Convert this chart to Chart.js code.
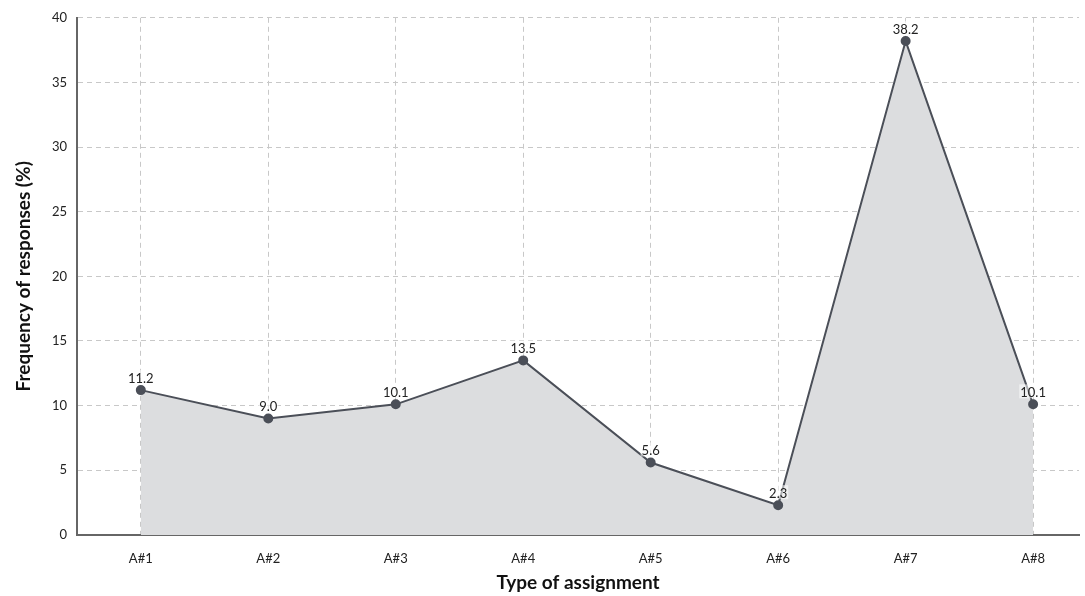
<!DOCTYPE html>
<html>
<head>
<meta charset="utf-8">
<script src="https://cdn.jsdelivr.net/npm/chart.js@4"></script>
<style>
  html, body { margin: 0; padding: 0; background: #fff; }
  #wrap { width: 1085px; height: 596px; }
</style>
</head>
<body>
<div id="wrap"><canvas id="freqChart"></canvas></div>
<script>
const categories = ['A#1', 'A#2', 'A#3', 'A#4', 'A#5', 'A#6', 'A#7', 'A#8'];
const frequency = [11.2, 9.0, 10.1, 13.5, 5.6, 2.3, 38.2, 10.1];
const yTicks = [0, 5, 10, 15, 20, 25, 30, 35, 40];

// value labels above the points
const valueLabels = {
  id: 'valueLabels',
  afterDatasetsDraw(chart) {
    const ctx = chart.ctx;
    const meta = chart.getDatasetMeta(0);
    ctx.save();
    ctx.font = '13px Lato';
    ctx.textAlign = 'center';
    ctx.textBaseline = 'bottom';
    meta.data.forEach((pt, i) => {
      const txt = frequency[i].toFixed(1);
      const w = ctx.measureText(txt).width;
      ctx.fillStyle = 'rgba(255,255,255,0.55)';
      ctx.fillRect(pt.x - w / 2 - 1, pt.y - 20, w + 2, 14);
      ctx.fillStyle = '#222';
      ctx.fillText(txt, pt.x, pt.y - 5);
    });
    ctx.restore();
  }
};

const ctx = document.getElementById('freqChart').getContext('2d');
new Chart(ctx, {
  type: 'line',
  data: {
    datasets: [{
      data: frequency.map((v, i) => ({ x: i + 1, y: v })),
      borderColor: '#4b4f58',
      backgroundColor: '#dcdddf',
      borderWidth: 2,
      pointRadius: 4,
      pointBackgroundColor: '#4b4f58',
      pointBorderColor: '#4b4f58',
      fill: 'origin',
      tension: 0
    }]
  },
  options: {
    responsive: true,
    maintainAspectRatio: false,
    animation: false,
    layout: { padding: { top: 0, right: 0, bottom: 0, left: 6 } },
    plugins: { legend: { display: false }, tooltip: { enabled: false } },
    scales: {
      x: {
        type: 'linear',
        min: 0.5,
        max: 8.36,
        afterBuildTicks: s => { s.ticks = categories.map((c, i) => ({ value: i + 1 })); },
        ticks: {
          callback: v => categories[v - 1],
          font: { family: 'Lato', size: 13 },
          color: '#222',
          padding: 16,
          maxRotation: 0
        },
        grid: { color: '#c8c8c8', lineWidth: 1, drawTicks: false },
        border: { color: '#666', width: 2, dash: [5, 4] },
        title: {
          display: true,
          text: 'Type of assignment',
          font: { family: 'Lato', size: 19, weight: 'bold', lineHeight: 1 },
          color: '#111',
          padding: { top: -9, bottom: 3.5 }
        }
      },
      y: {
        min: 0,
        max: 40,
        afterBuildTicks: s => { s.ticks = yTicks.map(v => ({ value: v })); },
        ticks: {
          font: { family: 'Lato', size: 13 },
          color: '#222',
          padding: 10
        },
        grid: { color: '#c8c8c8', lineWidth: 1, drawTicks: false },
        border: { color: '#666', width: 2, dash: [5, 4] },
        title: {
          display: true,
          text: 'Frequency of responses (%)',
          font: { family: 'Lato', size: 19, weight: 'bold', lineHeight: 1 },
          color: '#111',
          padding: { top: 8, bottom: 9 }
        }
      }
    }
  },
  plugins: [valueLabels]
});
</script>
</body>
</html>
